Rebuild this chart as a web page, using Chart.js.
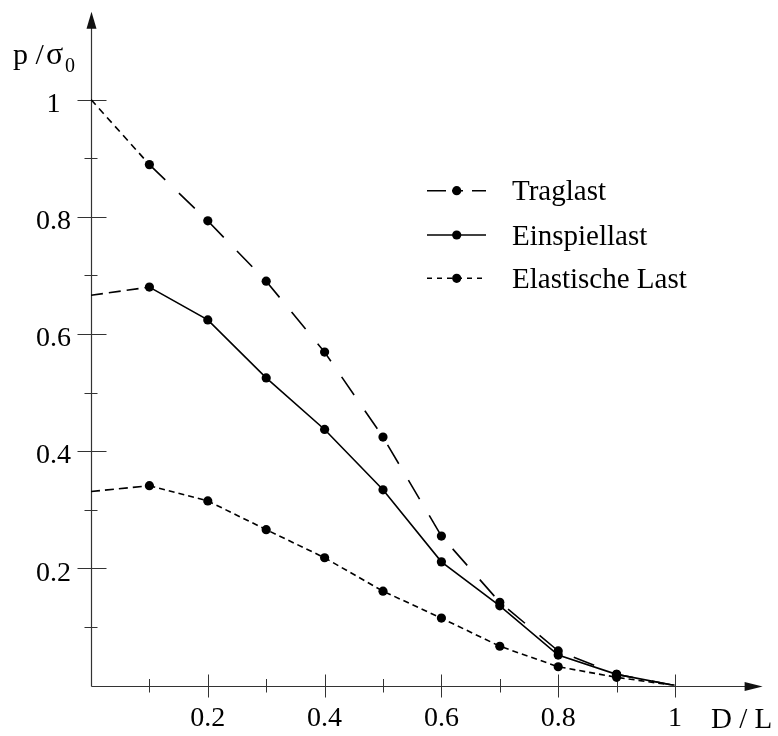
<!DOCTYPE html>
<html>
<head>
<meta charset="utf-8">
<script src="https://cdn.jsdelivr.net/npm/chart.js@4.4.1/dist/chart.umd.min.js"></script>
<style>
  html, body { margin: 0; padding: 0; background: #fff; }
  #wrap { width: 778px; height: 736px; }
</style>
</head>
<body>
<div id="wrap"><canvas id="lastChart" width="778" height="736"></canvas></div>
<script>
// === Daten ===
const dL = [0, 0.1, 0.2, 0.3, 0.4, 0.5, 0.6, 0.7, 0.8, 0.9, 1];
const traglast       = [1.0, 0.889, 0.793, 0.690, 0.569, 0.424, 0.255, 0.142, 0.059, 0.019, 0];
const einspiellast   = [0.666, 0.680, 0.624, 0.525, 0.437, 0.334, 0.211, 0.136, 0.052, 0.019, 0];
const elastischeLast = [0.331, 0.341, 0.315, 0.266, 0.218, 0.161, 0.115, 0.067, 0.032, 0.014, 0];
const seriesLabels = ["Traglast", "Einspiellast", "Elastische Last"];

const xMajorTicks = [0.2, 0.4, 0.6, 0.8, 1];
const xMajorLabels = ["0.2", "0.4", "0.6", "0.8", "1"];
const yMajorTicks = [0.2, 0.4, 0.6, 0.8, 1];
const yMajorLabels = ["0.2", "0.4", "0.6", "0.8", "1"];
const minorTicks = [0.1, 0.3, 0.5, 0.7, 0.9];

const X_TITLE = "D / L";
const Y_TITLE = "p /";
const Y_TITLE_SIGMA = "σ";
const Y_TITLE_SUB = "0";

const FONT = "'Liberation Serif', 'Times New Roman', serif";

function toPoints(ys) {
  return dL.map((x, i) => ({ x: x, y: ys[i] }));
}

// Punkte nur bei 0.1 ... 0.9
function pointR(ctx) {
  const i = ctx.dataIndex;
  return i === 0 || i === dL.length - 1 ? 0 : 4.6;
}

// erstes Stück (0 -> 0.1) ist extrapoliert, andere Strichelung
function firstDash(dash, rest) {
  return (ctx) => (ctx.p0DataIndex === 0 ? dash : rest);
}

// === Achsen mit Pfeilen und Ticks ===
const axesPlugin = {
  id: "axesPlugin",
  beforeDatasetsDraw(chart) {
    const { ctx, chartArea, scales } = chart;
    const ax = Math.round(scales.x.getPixelForValue(0)) + 0.5;
    const ay = Math.round(scales.y.getPixelForValue(0)) + 0.5;
    const top = chartArea.top;
    const right = chartArea.right;

    ctx.save();
    ctx.strokeStyle = "#333";
    ctx.fillStyle = "#111";
    ctx.lineWidth = 1.2;

    // y-Achse
    ctx.beginPath();
    ctx.moveTo(ax, ay);
    ctx.lineTo(ax, top + 10);
    ctx.stroke();
    ctx.beginPath();
    ctx.moveTo(ax, top);
    ctx.lineTo(ax - 5, top + 17);
    ctx.lineTo(ax + 5, top + 17);
    ctx.closePath();
    ctx.fill();

    // x-Achse
    ctx.beginPath();
    ctx.moveTo(ax, ay);
    ctx.lineTo(right - 10, ay);
    ctx.stroke();
    ctx.beginPath();
    ctx.moveTo(right, ay);
    ctx.lineTo(right - 18, ay - 4.5);
    ctx.lineTo(right - 18, ay + 4.5);
    ctx.closePath();
    ctx.fill();

    ctx.lineWidth = 1;
    ctx.beginPath();
    yMajorTicks.forEach((v) => {
      const y = Math.round(scales.y.getPixelForValue(v)) + 0.5;
      ctx.moveTo(ax - 14, y);
      ctx.lineTo(ax + 15, y);
    });
    minorTicks.forEach((v) => {
      const y = Math.round(scales.y.getPixelForValue(v)) + 0.5;
      ctx.moveTo(ax - 7, y);
      ctx.lineTo(ax + 6, y);
    });
    xMajorTicks.forEach((v) => {
      const x = Math.round(scales.x.getPixelForValue(v)) + 0.5;
      ctx.moveTo(x, ay - 12);
      ctx.lineTo(x, ay + 11);
    });
    minorTicks.forEach((v) => {
      const x = Math.round(scales.x.getPixelForValue(v)) + 0.5;
      ctx.moveTo(x, ay - 7.5);
      ctx.lineTo(x, ay + 6);
    });
    ctx.stroke();
    ctx.restore();
  },
  afterDraw(chart) {
    const { ctx } = chart;
    ctx.save();
    ctx.fillStyle = "#000";
    ctx.textBaseline = "alphabetic";
    ctx.textAlign = "left";

    // Achsentitel
    ctx.font = "30px " + FONT;
    ctx.fillText(Y_TITLE, 13, 64);
    ctx.font = "32px " + FONT;
    ctx.fillText(Y_TITLE_SIGMA, 46, 64);
    ctx.font = "20px " + FONT;
    ctx.fillText(Y_TITLE_SUB, 65, 72);
    ctx.font = "29px " + FONT;
    ctx.fillText(X_TITLE, 711, 728);

    // Legende
    const rows = [190.7, 235, 278.3];
    chart.data.datasets.forEach((ds, i) => {
      const y = rows[i];
      ctx.strokeStyle = ds.borderColor;
      ctx.lineWidth = ds.borderWidth;
      ctx.setLineDash(ds.legendDash || []);
      ctx.beginPath();
      ctx.moveTo(427, y);
      ctx.lineTo(486, y);
      ctx.stroke();
      ctx.setLineDash([]);
      ctx.beginPath();
      ctx.arc(456.7, y, 4.6, 0, Math.PI * 2);
      ctx.fillStyle = "#000";
      ctx.fill();
      ctx.font = "29px " + FONT;
      ctx.fillText(ds.label, 512, y + 9.5);
    });
    ctx.restore();
  },
};

const chartCanvas = document.getElementById("lastChart");

new Chart(chartCanvas.getContext("2d"), {
  type: "line",
  data: {
    datasets: [
      {
        label: seriesLabels[0],
        data: toPoints(traglast),
        borderColor: "#000",
        backgroundColor: "#000",
        borderWidth: 1.6,
        borderDash: [22, 19],
        segment: { borderDash: firstDash([7, 5], [22, 19]) },
        legendDash: [19, 6, 11, 9, 14],
        pointRadius: pointR,
        pointBorderWidth: 0,
        tension: 0,
      },
      {
        label: seriesLabels[1],
        data: toPoints(einspiellast),
        borderColor: "#000",
        backgroundColor: "#000",
        borderWidth: 1.6,
        segment: { borderDash: firstDash([12, 6], []) },
        legendDash: [],
        pointRadius: pointR,
        pointBorderWidth: 0,
        tension: 0,
      },
      {
        label: seriesLabels[2],
        data: toPoints(elastischeLast),
        borderColor: "#000",
        backgroundColor: "#000",
        borderWidth: 1.6,
        borderDash: [6, 4],
        segment: { borderDash: firstDash([9, 5], [6, 4]) },
        legendDash: [5, 5],
        pointRadius: pointR,
        pointBorderWidth: 0,
        tension: 0,
      },
    ],
  },
  options: {
    responsive: false,
    animation: false,
    devicePixelRatio: 1,
    layout: { padding: { top: 11.7, right: 15.4, left: 0, bottom: 0 } },
    plugins: {
      legend: { display: false },
      tooltip: { enabled: false },
    },
    scales: {
      x: {
        type: "linear",
        min: 0,
        max: 1.15,
        grid: { display: false, drawTicks: false },
        border: { display: false },
        afterBuildTicks: (s) => {
          s.ticks = xMajorTicks.map((v) => ({ value: v }));
        },
        afterFit: (s) => {
          s.height = 50.5;
          s.paddingLeft = 0;
          s.paddingRight = 0;
        },
        ticks: {
          autoSkip: false,
          maxRotation: 0,
          padding: 16,
          color: "#000",
          font: { family: FONT, size: 28 },
          callback: (v, i) => xMajorLabels[i],
        },
      },
      y: {
        type: "linear",
        min: 0,
        max: 1.15,
        grid: { display: false, drawTicks: false },
        border: { display: false },
        afterBuildTicks: (s) => {
          s.ticks = yMajorTicks.map((v) => ({ value: v }));
        },
        afterFit: (s) => {
          s.width = 91;
          s.paddingTop = 0;
          s.paddingBottom = 0;
        },
        ticks: {
          autoSkip: false,
          crossAlign: "center",
          padding: 20,
          labelOffset: 5,
          color: "#000",
          font: { family: FONT, size: 28 },
          callback: (v, i) => yMajorLabels[i],
        },
      },
    },
  },
  plugins: [axesPlugin],
});
</script>
</body>
</html>
